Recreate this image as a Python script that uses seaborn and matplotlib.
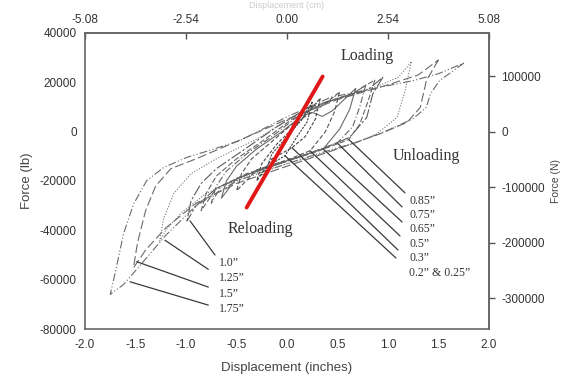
import matplotlib
matplotlib.use("Agg")
import matplotlib.pyplot as plt
from matplotlib.ticker import FormatStrFormatter, FixedLocator
import seaborn as sns

sns.set_style("white")
plt.rcParams['font.family'] = ['Liberation Sans', 'DejaVu Sans']

# ---------------- data (displacement in inches, force in lb) ----------------
x_175 = [1.75, 1.65, 1.51, 1.42, 1.38, 1.25, 0.99, 0.69, 0.30, 0.00, -0.50, -0.90, -1.20, -1.45, -1.62, -1.75,
         -1.69, -1.62, -1.52, -1.39, -1.22, -0.99, -0.83, -0.47, 0.00, 0.43, 0.92, 1.25, 1.50, 1.75]
f_175 = [27800, 24800, 20700, 15300, 9900, 5300, 400, -4300, -9000, -13000, -20000, -30000, -42000, -54000, -62000, -66000,
         -55200, -41600, -29400, -19900, -14500, -10400, -8400, -3700, 6000, 13900, 18000, 20700, 23500, 27800]

x_150 = [1.50, 1.38, 1.32, 1.19, 0.92, 0.50, 0.00, -0.50, -0.90, -1.20, -1.40, -1.52,
         -1.48, -1.40, -1.30, -1.15, -0.90, -0.50, 0.00, 0.50, 1.00, 1.30, 1.50]
f_150 = [29100, 20700, 9900, 3800, -900, -7000, -14000, -21000, -29000, -39000, -48000, -55200,
         -45000, -32000, -22000, -15000, -11000, -4000, 5000, 13000, 19000, 23000, 29100]

x_125 = [1.23, 1.17, 1.09, 0.89, 0.69, 0.30, 0.00, -0.40, -0.80, -1.05, -1.20, -1.26,
         -1.22, -1.12, -0.95, -0.70, -0.30, 0.10, 0.50, 0.90, 1.10, 1.23]
f_125 = [28200, 16700, 5800, -900, -4300, -9500, -13000, -18000, -25000, -33000, -40000, -44300,
         -35000, -25000, -17000, -11000, -3000, 7000, 13500, 18500, 22000, 28200]

x_100 = [0.95, 0.85, 0.79, 0.62, 0.35, 0.00, -0.40, -0.70, -0.90, -0.99,
         -0.95, -0.85, -0.70, -0.45, -0.10, 0.20, 0.50, 0.80, 0.95]
f_100 = [22100, 15400, 5800, -2300, -7000, -12000, -17500, -23000, -30000, -36200,
         -28000, -21000, -15000, -8000, 2000, 9500, 13500, 17000, 22100]

x_085 = [0.87, 0.80, 0.72, 0.61, 0.30, 0.00, -0.40, -0.70, -0.85,
         -0.80, -0.70, -0.50, -0.25, 0.05, 0.35, 0.65, 0.87]
f_085 = [21000, 12000, 3000, -3250, -8000, -12000, -17000, -23000, -32000,
         -25000, -18000, -11000, -4000, 5000, 11500, 15500, 21000]

x_075 = [0.78, 0.72, 0.65, 0.50, 0.20, -0.10, -0.40, -0.65, -0.75,
         -0.70, -0.60, -0.40, -0.15, 0.10, 0.40, 0.65, 0.78]
f_075 = [19000, 10000, 2000, -4470, -9000, -13000, -17500, -22000, -29000,
         -22000, -16000, -9000, -2000, 6000, 12000, 15000, 19000]

x_065 = [0.68, 0.62, 0.52, 0.36, 0.10, -0.20, -0.50, -0.65,
         -0.60, -0.50, -0.30, -0.05, 0.15, 0.25, 0.35, 0.45, 0.68]
f_065 = [17500, 9000, 1000, -6910, -10500, -14500, -19000, -27000,
         -20000, -14000, -7000, 0, 6500, 7800, 6200, 8500, 17500]

x_050 = [0.52, 0.47, 0.38, 0.23, 0.00, -0.30, -0.50,
         -0.45, -0.35, -0.15, 0.05, 0.30, 0.52]
f_050 = [16000, 8000, 0, -7720, -11500, -15500, -24000,
         -17000, -11000, -4000, 3000, 9000, 16000]

x_030 = [0.33, 0.28, 0.18, 0.05, -0.15, -0.30, -0.25, -0.10, 0.10, 0.33]
f_030 = [13500, 5000, -2000, -6500, -11000, -20000, -13000, -5000, 3000, 13500]

x_020 = [0.25, 0.20, 0.10, -0.02, -0.15, -0.22, -0.15, 0.00, 0.15, 0.25]
f_020 = [12000, 4000, -2000, -9760, -13000, -17000, -9000, -2000, 5000, 12000]

# red stiffness line
red_x = [-0.40, 0.353]
red_f = [-30770, 22360]

# leader lines (start on curve -> end near label)
lead_right_labels = ['0.85\u201d', '0.75\u201d', '0.65\u201d', '0.5\u201d', '0.3\u201d', '0.2\u201d & 0.25\u201d']
lead_right_x0 = [0.614, 0.495, 0.356, 0.228, 0.050, -0.020]
lead_right_f0 = [-3250, -4470, -6910, -7720, -6500, -9760]
lead_right_x1 = [1.168, 1.139, 1.139, 1.119, 1.099, 1.079]
lead_right_f1 = [-24800, -30490, -36590, -42280, -47970, -51220]
lead_right_ty = [-28050, -33740, -39430, -45530, -51220, -57320]
lead_right_tx = 1.208

lead_left_labels = ['1.0\u201d', '1.25\u201d', '1.5\u201d', '1.75\u201d']
lead_left_x0 = [-0.960, -1.208, -1.488, -1.554]
lead_left_f0 = [-36180, -44020, -52720, -60850]
lead_left_x1 = [-0.713, -0.779, -0.779, -0.779]
lead_left_f1 = [-50000, -55810, -63010, -70320]
lead_left_ty = [-53250, -59350, -65850, -71950]
lead_left_tx = -0.673

x_ticks = [-2.0, -1.5, -1.0, -0.5, 0.0, 0.5, 1.0, 1.5, 2.0]
y_ticks = [40000, 20000, 0, -20000, -40000, -60000, -80000]
cm_ticks = [-5.08, -2.54, 0.00, 2.54, 5.08]
n_ticks = [100000, 0, -100000, -200000, -300000]

# ---------------- figure ----------------
fig = plt.figure(figsize=(5.68, 3.85), dpi=100)
ax = fig.add_axes([85 / 568, 1 - 329 / 385, 404 / 568, 296 / 385])

loops = [
    (x_175, f_175, (0, (7, 2, 1, 2, 1, 2)), '#6a6a6a'),
    (x_150, f_150, (0, (8, 3)), '#6a6a6a'),
    (x_125, f_125, (0, (1, 1.5)), '#777777'),
    (x_100, f_100, (0, (10, 2, 2, 2)), '#5a5a5a'),
    (x_085, f_085, (0, (5, 2)), '#666666'),
    (x_075, f_075, (0, (6, 2, 1, 2)), '#666666'),
    (x_065, f_065, 'solid', '#6a6a6a'),
    (x_050, f_050, (0, (4, 2)), '#555555'),
    (x_030, f_030, (0, (3, 1.5)), '#444444'),
    (x_020, f_020, (0, (2, 1)), '#444444'),
]
for xs, fs, ls, col in loops:
    sns.lineplot(x=xs, y=fs, sort=False, estimator=None, ax=ax,
                 color=col, linewidth=0.8, linestyle=ls)

sns.lineplot(x=red_x, y=red_f, sort=False, estimator=None, ax=ax,
             color='#e01818', linewidth=2.8)

for x0, f0, x1, f1, ty, lab in zip(lead_right_x0, lead_right_f0, lead_right_x1,
                                   lead_right_f1, lead_right_ty, lead_right_labels):
    ax.plot([x0, x1], [f0, f1], color='#3a3a3a', linewidth=0.9)
    ax.text(lead_right_tx, ty, lab, family=['Liberation Serif'], fontsize=8.5,
            color='#333333', ha='left', va='center')
for x0, f0, x1, f1, ty, lab in zip(lead_left_x0, lead_left_f0, lead_left_x1,
                                   lead_left_f1, lead_left_ty, lead_left_labels):
    ax.plot([x0, x1], [f0, f1], color='#3a3a3a', linewidth=0.9)
    ax.text(lead_left_tx, ty, lab, family=['Liberation Serif'], fontsize=8.5,
            color='#333333', ha='left', va='center')

ax.text(0.79, 30490, 'Loading', family=['Liberation Serif'], fontsize=11.5,
        color='#333333', ha='center', va='center')
ax.text(1.383, -9760, 'Unloading', family=['Liberation Serif'], fontsize=11.5,
        color='#333333', ha='center', va='center')
ax.text(-0.26, -39560, 'Reloading', family=['Liberation Serif'], fontsize=11.5,
        color='#333333', ha='center', va='center')

ax.set_xlim(-2.0, 2.0)
ax.set_ylim(-80000, 40000)
ax.xaxis.set_major_locator(FixedLocator(x_ticks))
ax.yaxis.set_major_locator(FixedLocator(y_ticks))
ax.xaxis.set_major_formatter(FormatStrFormatter('%.1f'))
ax.yaxis.set_major_formatter(FormatStrFormatter('%d'))
ax.tick_params(axis='x', direction='in', length=4, width=1, colors='#555555',
               labelcolor='#333333', labelsize=8.5, pad=7)
ax.tick_params(axis='y', direction='out', length=4, width=1, colors='#555555',
               labelcolor='#333333', labelsize=8.5, pad=2)
for sp in ax.spines.values():
    sp.set_color('#666666')
    sp.set_linewidth(1.2)
    sp.set_visible(True)

ax.set_xlabel('Displacement (inches)', fontsize=9.5, color='#444444', labelpad=8)
ax.set_ylabel('Force (lb)', fontsize=9.5, color='#444444', labelpad=5)

top = ax.secondary_xaxis('top', functions=(lambda v: v * 2.54, lambda v: v / 2.54))
top.set_xticks(cm_ticks)
top.xaxis.set_major_formatter(FormatStrFormatter('%.2f'))
top.tick_params(direction='in', length=4, width=1, colors='#555555',
                labelcolor='#333333', labelsize=8.5, pad=5)
top.spines['top'].set_color('#666666')
top.spines['top'].set_linewidth(1.2)

right = ax.secondary_yaxis('right', functions=(lambda v: v * 4.448, lambda v: v / 4.448))
right.set_yticks(n_ticks)
right.yaxis.set_major_formatter(FormatStrFormatter('%d'))
right.tick_params(direction='out', length=4, width=1, colors='#555555',
                  labelcolor='#333333', labelsize=8.5, pad=5)
right.spines['right'].set_color('#666666')
right.spines['right'].set_linewidth(1.2)
right.set_ylabel('Force (N)', fontsize=7.5, color='#444444', labelpad=4)

fig.text(287 / 568, 1 - 5 / 385, 'Displacement (cm)', fontsize=6.5, color='#cccccc',
         ha='center', va='center')

fig.savefig('out.png', dpi=100, facecolor='white')
